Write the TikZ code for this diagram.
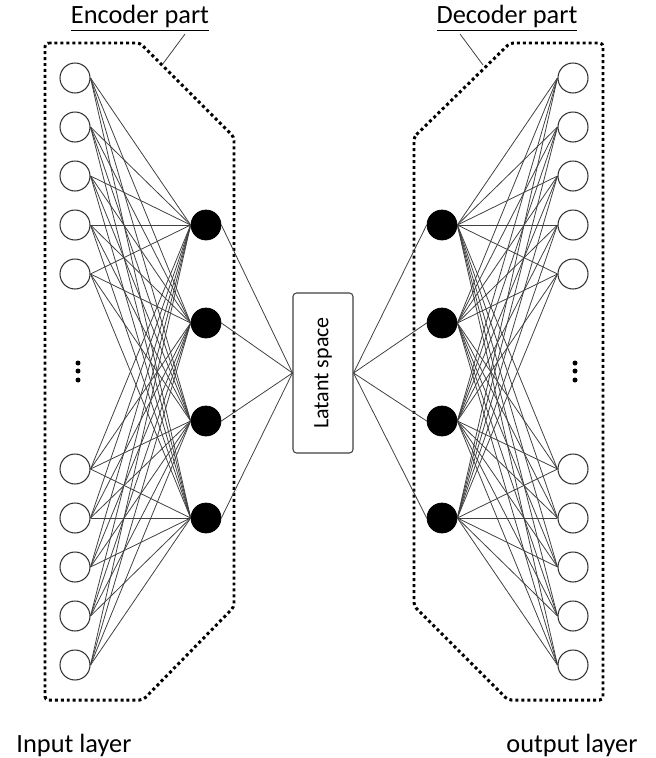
\documentclass[tikz,border=0pt]{standalone}
\usepackage{fontspec}
\setmainfont{Carlito}
\usetikzlibrary{positioning}
\tikzstyle{neuron} = [
circle,
draw=black!80,
line width=0.6pt,
fill=white,
minimum size=0.6cm,
inner sep=0pt]
\tikzstyle{hidden} = [
circle,
draw=black,
fill=black,
minimum size=0.6cm,
inner sep=0pt]
\tikzstyle{latent} = [
draw=black!75,
rounded corners=2pt,
line width=0.6pt,
minimum width=1.2cm,
minimum height=3.2cm,
inner sep=0pt]
\tikzstyle{link} = [
draw=black!75,
line width=0.45pt]
\tikzstyle{part} = [
draw=black,
line width=1.7pt,
dash pattern=on 1.7pt off 1.7pt,
rounded corners=2pt]
\tikzstyle{caption} = [
font=\fontsize{15}{18}\selectfont,
inner sep=0pt]

\begin{document}
\begin{tikzpicture}[x=0.02cm, y=-0.02cm]
\useasboundingbox (0,0) rectangle (656,758);

% dotted frames
\draw[part] (45,43) -- (140,43) -- (234,137) -- (234,607) -- (143,700) -- (45,700) -- cycle;
\draw[part] (414,137) -- (510,43) -- (603,43) -- (603,700) -- (508,700) -- (414,606) -- cycle;

% layers
\foreach \y [count=\i] in {78,127,176,225,274,469,518,567,616,665} {
  \node[neuron] (in\i) at (75,\y) {};
  \node[neuron] (out\i) at (573,\y) {};
}
\foreach \y [count=\i] in {225,323,421,518} {
  \node[hidden] (enc\i) at (206,\y) {};
  \node[hidden] (dec\i) at (442,\y) {};
}
\node[latent] (latent) at (323,373) {\rotatebox{90}{\fontsize{12.5}{14}\selectfont Latant space}};

% dots
\foreach \y in {363,371,380} {
  \fill (78,\y) circle (2.5);
  \fill (575,\y) circle (2.5);
}

% connections
\foreach \i in {1,...,10} {
  \foreach \j in {1,...,4} {
    \draw[link] (in\i.east) -- (enc\j.west);
    \draw[link] (dec\j.east) -- (out\i.west);
  }
}
\foreach \j in {1,...,4} {
  \draw[link] (enc\j.east) -- (latent.west);
  \draw[link] (latent.east) -- (dec\j.west);
}

% labels
\node[caption] (encLabel) at (140,18) {\underline{Encoder part}};
\node[caption] (decLabel) at (507,18) {\underline{Decoder part}};
\coordinate (encA) at (185,34);
\coordinate (encB) at (162,65);
\coordinate (decA) at (460,34);
\coordinate (decB) at (483,65);
\draw[link] (encA) -- (encB);
\draw[link] (decA) -- (decB);

\node[caption] (inputLabel) at (74,745) {Input layer};
\node[caption] (outputLabel) at (572,745) {output layer};

\end{tikzpicture}
\end{document}
